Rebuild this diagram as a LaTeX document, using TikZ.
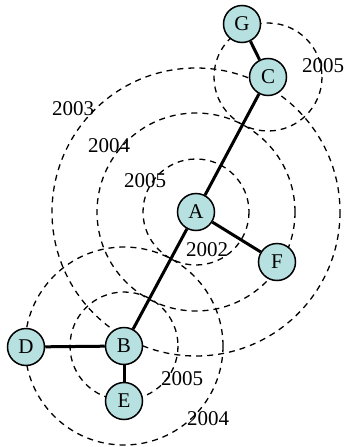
\documentclass[tikz,border=0pt]{standalone}
\usepackage{fontspec}
\setmainfont{Liberation Serif}
\definecolor{nodefill}{RGB}{183,224,225}
\begin{document}
\begin{tikzpicture}[x=1pt,y=-1pt,
  vert/.style={circle,draw=black,line width=1.5pt,fill=nodefill,minimum size=37pt,inner sep=0pt,font=\fontsize{21}{24}\selectfont},
  ring/.style={draw=black,line width=1.3pt,dash pattern=on 6pt off 5pt},
  yr/.style={inner sep=0pt,font=\fontsize{21}{24}\selectfont},
  edge/.style={line width=3pt}]
\useasboundingbox (0,0) rectangle (345,447);
% centres
\coordinate (cA) at (196,212);
\coordinate (cB) at (124,346);
\coordinate (cC) at (268,77);
% rings
\draw[ring] (cA) circle[radius=53];
\draw[ring] (cA) circle[radius=99];
\draw[ring] (cA) circle[radius=144];
\draw[ring] (cC) circle[radius=54];
\draw[ring] (cB) circle[radius=54];
\draw[ring] (cB) circle[radius=99];
% labels
\node[yr] (l2003) at (73,109) {2003};
\node[yr] (l2004a) at (109,146) {2004};
\node[yr] (l2005a) at (145,181) {2005};
\node[yr] (l2005c) at (323,66) {2005};
\node[yr] (l2002) at (207,250) {2002};
\node[yr] (l2005b) at (182,379) {2005};
\node[yr] (l2004b) at (208,419) {2004};
% nodes
\node[vert] (G) at (242,24) {G};
\node[vert] (C) at (cC) {C};
\node[vert] (A) at (cA) {A};
\node[vert] (F) at (277,262) {F};
\node[vert] (B) at (cB) {B};
\node[vert] (D) at (26,347) {D};
\node[vert] (E) at (124,401) {E};
% edges
\draw[edge] (G) -- (C);
\draw[edge] (C) -- (A);
\draw[edge] (A) -- (F);
\draw[edge] (A) -- (B);
\draw[edge] (B) -- (D);
\draw[edge] (B) -- (E);
\end{tikzpicture}
\end{document}
